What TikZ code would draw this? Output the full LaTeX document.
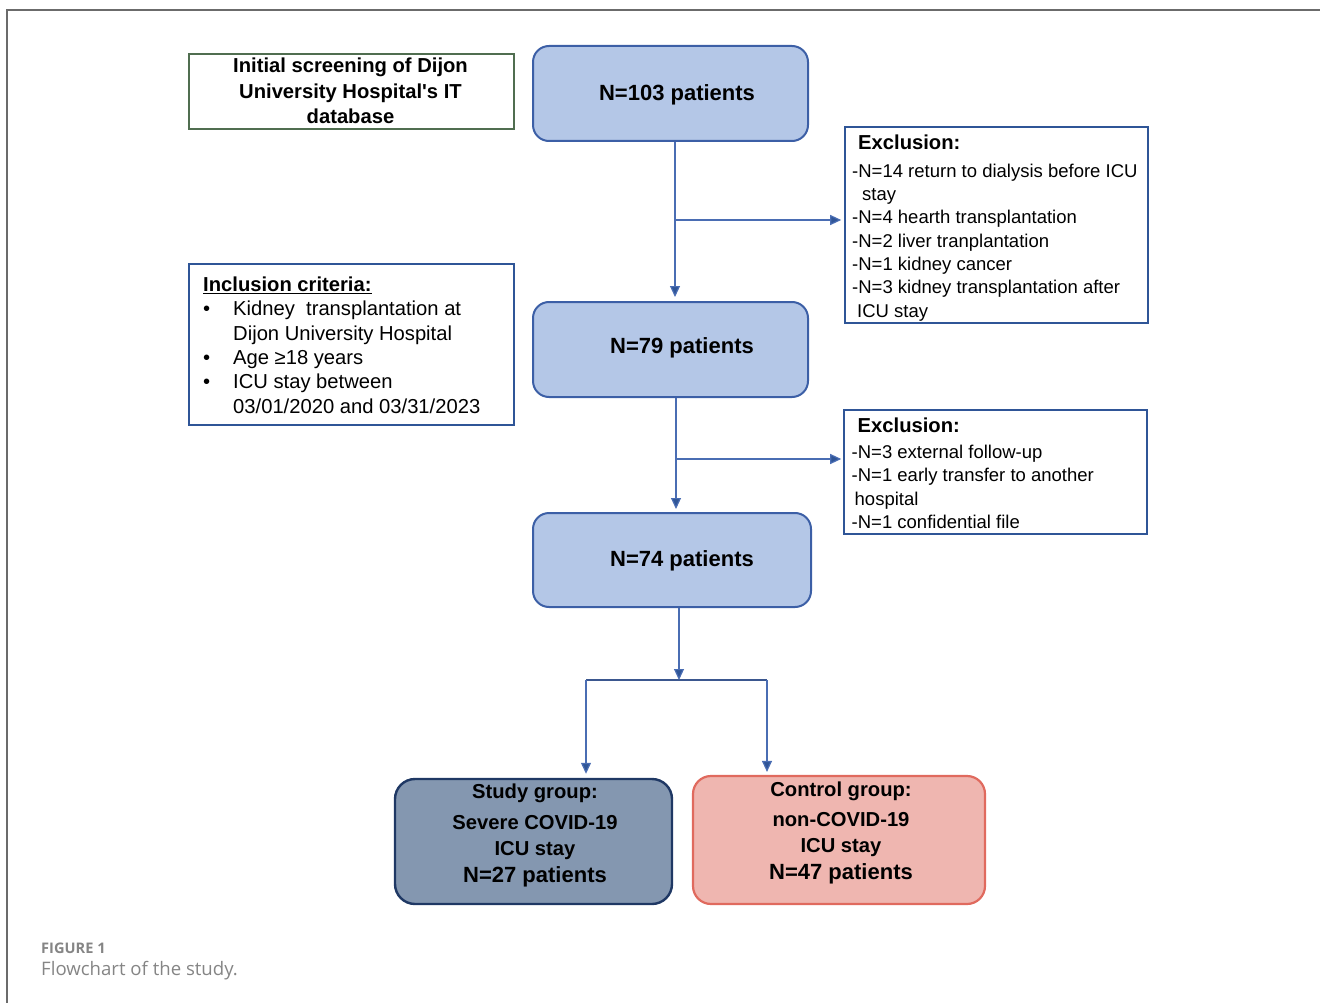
\documentclass[tikz,border=0pt]{standalone}
\usepackage{fontspec}
\setmainfont{Liberation Sans}
\newfontfamily\capfont{Open Sans}
\usetikzlibrary{arrows.meta}
\definecolor{nfill}{HTML}{B4C7E7}
\definecolor{nborder}{HTML}{3C5FA6}
\definecolor{sfill}{HTML}{8497B0}
\definecolor{sborder}{HTML}{1F3864}
\definecolor{cfill}{HTML}{EFB6B0}
\definecolor{cborder}{HTML}{E06A5E}
\definecolor{exborder}{HTML}{2F5597}
\definecolor{initborder}{HTML}{506E50}
\definecolor{connc}{HTML}{4A6DB3}
\definecolor{tipc}{HTML}{2F5597}
\definecolor{framec}{HTML}{6B6B6B}
\definecolor{capc}{HTML}{858585}
\begin{document}
\begin{tikzpicture}[x=1pt,y=-1pt,
  nbox/.style={draw=nborder, fill=nfill, line width=2, rounded corners=16, inner sep=0},
  sqbox/.style={draw=exborder, line width=1.6, inner sep=0},
  ntext/.style={font=\bfseries\fontsize{22}{26}\selectfont, inner sep=0},
  conn/.style={draw=connc, line width=1.2, -{Triangle[length=11pt,width=10pt,fill=tipc]}, shorten >=2},
  bar/.style={draw=connc!80!black, line width=2}
]
\useasboundingbox (0,0) rectangle (1320,1003);
% frame
\draw[framec, line width=1.5] (7,1003) -- (7,10) -- (1320,10);

% boxes
\node[draw=initborder, line width=1.4, inner sep=0, minimum width=325, minimum height=75] (init) at (351.5,91.5) {};
\node[inner sep=0, align=center, font=\bfseries\fontsize{20.2}{25.5}\selectfont] (initt) at (350.5,91)
  {Initial screening of Dijon\\University Hospital\textquotesingle s IT\\database};

\node[sqbox, minimum width=325, minimum height=161] (incl) at (351.5,344.5) {};
\node[inner sep=0, anchor=west, align=left, font=\fontsize{20.2}{24.4}\selectfont] (inclt) at (203,345)
  {{\bfseries\underline{Inclusion criteria:}}\\
   \makebox[30pt][l]{\textbullet}Kidney\ \ transplantation at\\
   \hspace*{30pt}Dijon University Hospital\\
   \makebox[30pt][l]{\textbullet}Age ≥18 years\\
   \makebox[30pt][l]{\textbullet}ICU stay between\\
   \hspace*{30pt}03/01/2020 and 03/31/2023};

\node[nbox, minimum width=275, minimum height=95] (n103) at (670.5,93.5) {};
\node[ntext] (n103t) at (677,95) {N=103 patients};
\node[nbox, minimum width=275, minimum height=95] (n79) at (670.5,349.5) {};
\node[ntext] (n79t) at (682,348) {N=79 patients};
\node[nbox, minimum width=278, minimum height=94] (n74) at (672,560) {};
\node[ntext] (n74t) at (682,561) {N=74 patients};

\node[sqbox, minimum width=303, minimum height=196] (ex1) at (996.5,225) {};
\node[inner sep=0, anchor=west, align=left, font=\fontsize{18.5}{23.3}\selectfont] (ex1t) at (852,228)
  {\hspace*{6pt}{\bfseries\fontsize{20.2}{23.3}\selectfont Exclusion:}\\[4.5pt]
   -N=14 return to dialysis before ICU\\
   \hspace*{10pt}stay\\
   -N=4 hearth transplantation\\
   -N=2 liver tranplantation\\
   -N=1 kidney cancer\\
   -N=3 kidney transplantation after\\
   \hspace*{5pt}ICU stay};

\node[sqbox, minimum width=303, minimum height=124] (ex2) at (995.5,472) {};
\node[inner sep=0, anchor=west, align=left, font=\fontsize{18.5}{23.3}\selectfont] (ex2t) at (851.5,473.5)
  {\hspace*{6pt}{\bfseries\fontsize{20.2}{23.3}\selectfont Exclusion:}\\[2.5pt]
   -N=3 external follow-up\\
   -N=1 early transfer to another\\
   \hspace*{3pt}hospital\\
   -N=1 confidential file};

\node[draw=sborder, fill=sfill, line width=2.4, rounded corners=20, inner sep=0, minimum width=277, minimum height=125] (study) at (533.5,841.5) {};
\node[inner sep=0, align=center, font=\bfseries\fontsize{20.2}{26}\selectfont] (studyt) at (535,835.5)
  {Study group:\\[5pt]Severe COVID-19\\ICU stay\\[1pt]{\fontsize{22}{26}\selectfont N=27 patients}};

\node[draw=cborder, fill=cfill, line width=2.2, rounded corners=18, inner sep=0, minimum width=292, minimum height=128] (control) at (839,840) {};
\node[inner sep=0, align=center, font=\bfseries\fontsize{20.2}{26}\selectfont] (controlt) at (841,833)
  {Control group:\\[4pt]non-COVID-19\\ICU stay\\[1pt]{\fontsize{22}{26}\selectfont N=47 patients}};

% connectors
\coordinate (j1) at (675,220);
\coordinate (j2) at (676,459);
\coordinate (j3) at (679,680);
\coordinate (bl) at (586,680);
\coordinate (br) at (767,680);
\draw[conn, shorten >=4] (n103.south -| j1) -- (j1 |- n79.north);
\draw[conn, shorten >=3] (j1) -- (j1 -| ex1.west);
\draw[conn, shorten >=3] (n79.south -| j2) -- (j2 |- n74.north);
\draw[conn, shorten >=2] (j2) -- (j2 -| ex2.west);
\draw[bar] (bl) -- (br);
\draw[conn, shorten >=0] (n74.south -| j3) -- (j3);
\draw[conn, shorten >=4] (bl) -- (bl |- study.north);
\draw[conn, shorten >=3] (br) -- (br |- control.north);

% caption
\node[inner sep=0, anchor=west, text=capc, font=\capfont\bfseries\fontsize{14.6}{16}\selectfont] (figlabel) at (41,948) {FIGURE 1};
\node[inner sep=0, anchor=west, text=capc, font=\capfont\fontsize{18.6}{21}\selectfont] (figcap) at (41,971) {Flowchart of the study.};
\end{tikzpicture}
\end{document}
